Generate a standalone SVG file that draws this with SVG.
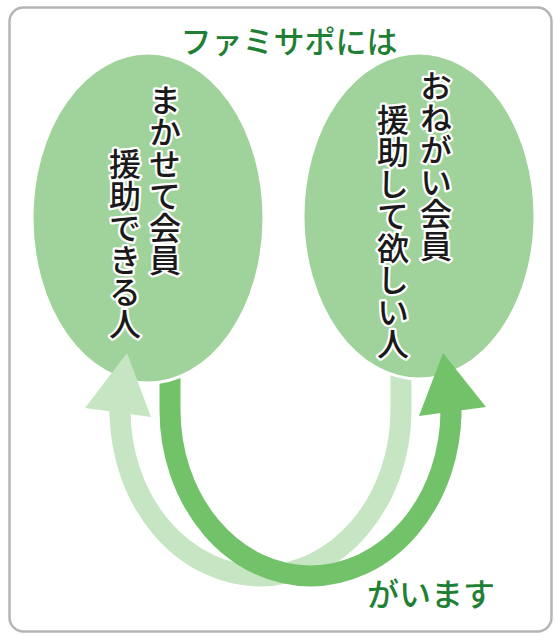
<svg xmlns="http://www.w3.org/2000/svg" width="555" height="636" viewBox="0 0 555 636">
<style>
.frame{fill:#fff;stroke:#b5b5b5;stroke-width:2.5}
.ell{fill:#a0d39b;stroke:#fff;stroke-width:3}
.v{font-family:"Noto Sans CJK JP","Noto Sans",sans-serif;font-size:32px;font-weight:500;fill:#1a1a1a;stroke:#fff;stroke-width:4.5;stroke-linejoin:round;paint-order:stroke;writing-mode:vertical-rl}
.h{font-family:"Noto Sans CJK JP","Noto Sans",sans-serif;font-size:31px;font-weight:500;fill:#1f7f35}
.dark{fill:none;stroke:#72c26a;stroke-width:21}
.light{fill:none;stroke:#c6e5c2;stroke-width:21}
.darkh{fill:#72c26a}
.lighth{fill:#c6e5c2}
</style>
<rect class="frame" x="9.5" y="7.5" width="542" height="624" rx="14"/>
<text class="h" x="289" y="53" text-anchor="middle">ファミサポには</text>
<g id="connectors">
<path class="light" d="M401,372 V410 A140.5,166 0 0 1 120,410 V418"/>
<path class="dark" d="M170,372 V410 A140.5,166 0 0 0 451,410 V418"/>
</g>
<g id="node-makase">
<ellipse class="ell" cx="148" cy="218" rx="116" ry="165"/>
<text class="v" x="165" y="84">まかせて会員</text>
<text class="v" x="125" y="148">援助できる人</text>
</g>
<g id="node-onegai">
<ellipse class="ell" cx="419" cy="216" rx="116" ry="163"/>
<text class="v" x="436" y="70">おねがい会員</text>
<text class="v" x="393" y="104">援助して欲しい人</text>
</g>
<g id="arrowheads">
<polygon class="lighth" points="127,353 85,408 151,417"/>
<polygon class="darkh" points="443,353 486,407 419,416"/>
</g>
<text class="h" x="367" y="606" style="font-size:32px">がいます</text>
</svg>
